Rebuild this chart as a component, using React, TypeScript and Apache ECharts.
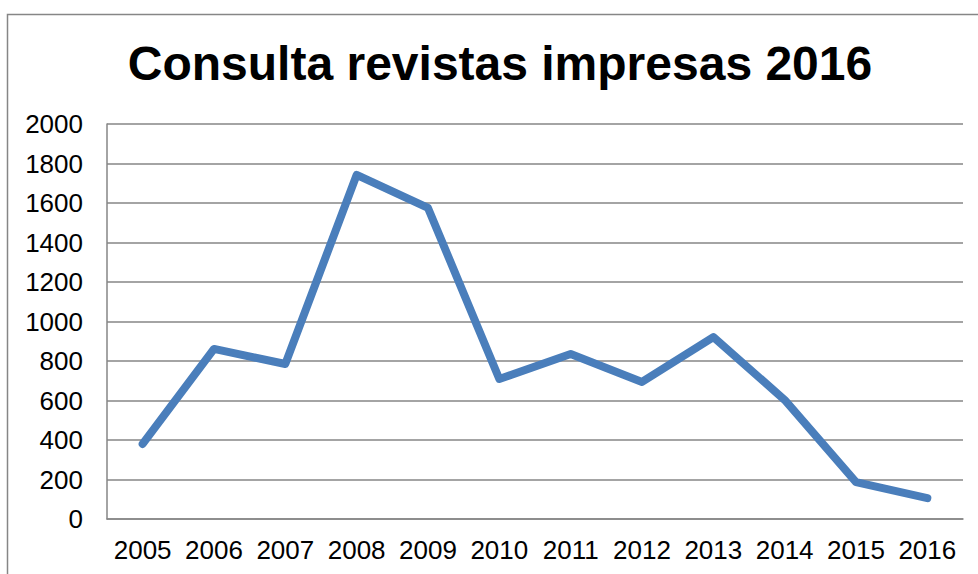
import React, { useEffect, useRef } from "react";
import * as echarts from "echarts";

const title = "Consulta revistas impresas 2016";
const years = ["2005", "2006", "2007", "2008", "2009", "2010", "2011", "2012", "2013", "2014", "2015", "2016"];
const consultas = [380, 861, 785, 1742, 1575, 709, 835, 694, 921, 603, 187, 106];

export default function App() {
  const ref = useRef<HTMLDivElement>(null);
  useEffect(() => {
    document.body.style.margin = "0";
    const chart = echarts.init(ref.current!, null, { renderer: "svg" });
    chart.setOption({
      animation: false,
      backgroundColor: "#ffffff",
      title: {
        text: title,
        left: 495,
        textAlign: "center",
        top: 34,
        textStyle: { fontFamily: "Liberation Sans, Arial, sans-serif", fontWeight: "bold", fontSize: 48, color: "#000000" },
      },
      graphic: [
        {
          type: "rect",
          shape: { x: 7.5, y: 14.5, width: 1000, height: 600 },
          style: { fill: "none", stroke: "#868686", lineWidth: 1.5 },
          silent: true,
        },
      ],
      grid: { left: 107, right: 15, top: 124, bottom: 55 },
      xAxis: {
        type: "category",
        data: years,
        boundaryGap: true,
        axisLine: { show: true, lineStyle: { color: "#868686", width: 1.5 } },
        axisTick: { show: false },
        axisLabel: { color: "#000000", fontSize: 26, fontFamily: "Liberation Sans, Arial, sans-serif", margin: 18, interval: 0 },
        splitLine: { show: false },
      },
      yAxis: {
        type: "value",
        min: 0,
        max: 2000,
        interval: 200,
        axisLine: { show: true, lineStyle: { color: "#868686", width: 1.5 } },
        axisTick: { show: false },
        axisLabel: {
          color: "#000000",
          fontSize: 26,
          fontFamily: "Liberation Sans, Arial, sans-serif",
          margin: 24,
          formatter: (v: number) => String(v),
        },
        splitLine: { show: true, lineStyle: { color: "#868686", width: 1.5 } },
      },
      series: [
        {
          type: "line",
          data: consultas,
          symbol: "none",
          lineStyle: { color: "#4A7EBB", width: 8, cap: "round", join: "round" },
          itemStyle: { color: "#4A7EBB" },
        },
      ],
    });
    return () => chart.dispose();
  }, []);
  return <div ref={ref} style={{ width: 978, height: 574 }} />;
}
